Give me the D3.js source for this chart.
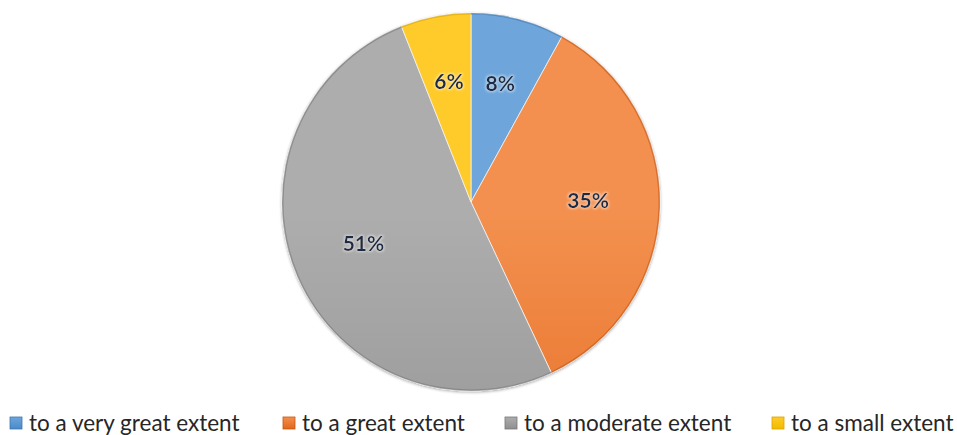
<!DOCTYPE html>
<html>
<head>
<meta charset="utf-8">
<script src="https://cdn.jsdelivr.net/npm/d3@7"></script>
<style>
  body { margin: 0; background: #fff; }
  svg { display: block; font-family: Lato, "Open Sans", sans-serif; }
  .pct { font-weight: bold; font-size: 21px; fill: #1c2a45; }
  .leg { font-size: 22.5px; fill: #262626; }
</style>
</head>
<body>
<div id="chart"></div>
<script>
var categories = ["to a very great extent", "to a great extent", "to a moderate extent", "to a small extent"];
var values = [8, 35, 51, 6];
var labels = ["8%", "35%", "51%", "6%"];

var colorTop = ["#6ea6dc", "#f3904f", "#adadad", "#ffcb2a"];
var colorBottom = ["#4a8ac9", "#e2661a", "#8f8f8f", "#f2ba00"];
var colorEdge = ["#3f77ad", "#c55510", "#777777", "#d9a400"];

var width = 957,
height = 435,
cx = 471,
cy = 202,
radius = 189;

var svg = d3.select("#chart")
.append("svg")
.attr("width", width)
.attr("height", height);

var defs = svg.append("defs");

// vertical gradients, one per slice
categories.forEach(function(c, i) {
    var g = defs.append("linearGradient")
    .attr("id", "grad" + i)
    .attr("gradientUnits", "userSpaceOnUse")
    .attr("x1", 0).attr("y1", cy - radius)
    .attr("x2", 0).attr("y2", cy + radius);
    g.append("stop").attr("offset", "0%").attr("stop-color", colorTop[i]);
    g.append("stop").attr("offset", "100%").attr("stop-color", colorBottom[i]);

    var lg = defs.append("linearGradient")
    .attr("id", "lg" + i)
    .attr("x1", 0).attr("y1", 0).attr("x2", 0).attr("y2", 1);
    lg.append("stop").attr("offset", "0%").attr("stop-color", colorTop[i]);
    lg.append("stop").attr("offset", "100%").attr("stop-color", colorBottom[i]);
});

var shadow = defs.append("filter")
.attr("id", "shadow")
.attr("x", "-10%").attr("y", "-10%")
.attr("width", "120%").attr("height", "120%");
shadow.append("feGaussianBlur").attr("in", "SourceAlpha").attr("stdDeviation", 1.5);
shadow.append("feOffset").attr("dx", 0).attr("dy", 1).attr("result", "b");
shadow.append("feComponentTransfer").append("feFuncA").attr("type", "linear").attr("slope", 0.35);
var merge = shadow.append("feMerge");
merge.append("feMergeNode");
merge.append("feMergeNode").attr("in", "SourceGraphic");

var glow = defs.append("filter").attr("id", "glow")
.attr("x", "-20%").attr("y", "-30%").attr("width", "140%").attr("height", "160%");
glow.append("feMorphology").attr("in", "SourceAlpha").attr("operator", "dilate").attr("radius", 1).attr("result", "d");
glow.append("feGaussianBlur").attr("in", "d").attr("stdDeviation", 1).attr("result", "bl");
glow.append("feFlood").attr("flood-color", "#ffffff").attr("flood-opacity", 0.45);
glow.append("feComposite").attr("in2", "bl").attr("operator", "in").attr("result", "g");
var gm = glow.append("feMerge");
gm.append("feMergeNode").attr("in", "g");
gm.append("feMergeNode").attr("in", "SourceGraphic");

var pie = d3.pie()
.sort(null)
.value(function(d) { return d; });

var arcs = pie(values);

var arc = d3.arc()
.innerRadius(0)
.outerRadius(radius);

// dark rim along the outer edge
var rim = d3.arc()
.innerRadius(radius - 1.5)
.outerRadius(radius);

var labelArc = d3.arc()
.innerRadius(radius * 0.62)
.outerRadius(radius * 0.62);

var g = svg.append("g")
.attr("transform", "translate(" + cx + "," + cy + ")");

var pieG = g.append("g").attr("filter", "url(#shadow)");

pieG.selectAll("path.slice")
.data(arcs)
.enter()
.append("path")
.attr("class", "slice")
.attr("d", arc)
.attr("fill", function(d, i) { return "url(#grad" + i + ")"; })
.attr("stroke", "#f2f2f2")
.attr("stroke-width", 0.8);

pieG.selectAll("path.rim")
.data(arcs)
.enter()
.append("path")
.attr("class", "rim")
.attr("d", rim)
.attr("fill", function(d, i) { return colorEdge[i]; })
.attr("opacity", 0.6);

g.selectAll("text.pct")
.data(arcs)
.enter()
.append("text")
.attr("class", "pct")
.attr("filter", "url(#glow)")
.attr("transform", function(d) { return "translate(" + labelArc.centroid(d) + ")"; })
.attr("text-anchor", "middle")
.attr("dy", "0.1em")
.text(function(d, i) { return labels[i]; });

// legend
var legendOffsets = [10, 283, 505, 772];

var legend = svg.selectAll("g.legend")
.data(categories)
.enter()
.append("g")
.attr("class", "legend")
.attr("transform", function(d, i) { return "translate(" + legendOffsets[i] + ",417)"; });

legend.append("rect")
.attr("width", 12)
.attr("height", 12)
.attr("fill", function(d, i) { return "url(#lg" + i + ")"; })
.attr("stroke", function(d, i) { return colorEdge[i]; })
.attr("stroke-width", 0.8);

legend.append("text")
.attr("class", "leg")
.attr("x", 19)
.attr("y", 6)
.attr("dy", "0.36em")
.text(function(d) { return d; });
</script>
</body>
</html>
